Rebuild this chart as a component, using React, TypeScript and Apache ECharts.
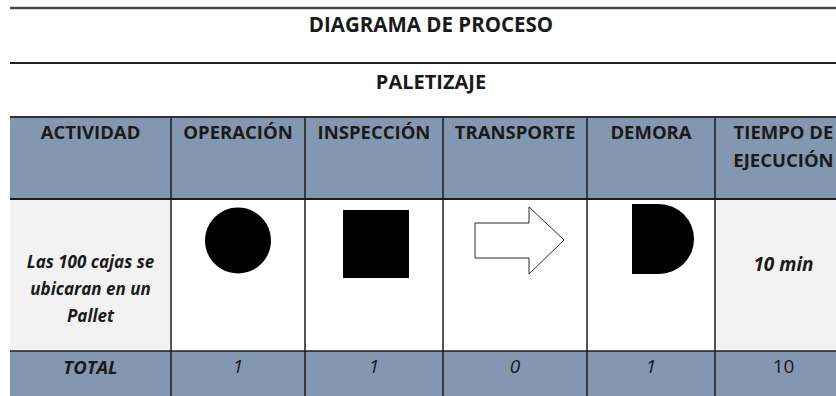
import React, { useEffect, useRef } from "react";
import * as echarts from "echarts";

const title = "DIAGRAMA DE PROCESO";
const subtitle = "PALETIZAJE";
const columns = ["ACTIVIDAD", "OPERACIÓN", "INSPECCIÓN", "TRANSPORTE", "DEMORA", "TIEMPO DE\nEJECUCIÓN"];
const activityLines = ["Las 100 cajas se", "ubicaran en un", "Pallet"];
const timeLabel = "10 min";
const totalLabel = "TOTAL";
const totals = ["1", "1", "0", "1"];
const totalTime = "10";

// layout
const colEdges = [10, 171, 305, 443, 587, 715, 852];
const yTopLine = 8;
const ySecondLine = 63;
const yHeaderTop = 117;
const yHeaderBottom = 199;
const yBodyBottom = 351;
const yBottom = 396;

const HEADER_BG = "#8497b0";
const BODY_GRAY = "#f2f2f2";
const LINE = "#1c1c1c";
const TXT = "#1a1a1a";
const FONT = "'Open Sans', 'Noto Sans', sans-serif";

let registered = false;
function registerShapes() {
  if (registered) return;
  registered = true;
  // D-shaped delay symbol, 62 x 70
  echarts.graphic.registerShape(
    "demoraShape",
    echarts.graphic.extendPath("M0 0 L27 0 A35 35 0 0 1 27 70 L0 70 Z", {})
  );
}

export default function App() {
  const ref = useRef<HTMLDivElement>(null);
  useEffect(() => {
    document.body.style.margin = "0";
    registerShapes();
    const chart = echarts.init(ref.current!, undefined, { renderer: "svg" });
    const cx = (i: number) => (colEdges[i] + colEdges[i + 1]) / 2;
    const els: any[] = [];
    const W = colEdges[colEdges.length - 1];
    const L = colEdges[0];

    // lines top
    els.push({ type: "line", shape: { x1: L, y1: yTopLine, x2: W, y2: yTopLine }, style: { stroke: "#4a4a4a", lineWidth: 2.5 } });
    els.push({ type: "line", shape: { x1: L, y1: ySecondLine, x2: W, y2: ySecondLine }, style: { stroke: "#222", lineWidth: 2 } });

    // title texts
    const tStyle = { fontFamily: FONT, fontWeight: "bold", fontSize: 18.5, fill: TXT, align: "center", verticalAlign: "middle" };
    els.push({ type: "text", style: { ...tStyle, fontSize: 20.5, text: title, x: 431, y: 24 } });
    els.push({ type: "text", style: { ...tStyle, fontSize: 20, text: subtitle, x: 431, y: 81 } });

    // backgrounds
    els.push({ type: "rect", shape: { x: L, y: yHeaderTop, width: W - L, height: yHeaderBottom - yHeaderTop }, style: { fill: HEADER_BG } });
    els.push({ type: "rect", shape: { x: L, y: yHeaderBottom, width: W - L, height: yBodyBottom - yHeaderBottom }, style: { fill: "#ffffff" } });
    els.push({ type: "rect", shape: { x: colEdges[0], y: yHeaderBottom, width: colEdges[1] - colEdges[0], height: yBodyBottom - yHeaderBottom }, style: { fill: BODY_GRAY } });
    els.push({ type: "rect", shape: { x: colEdges[5], y: yHeaderBottom, width: colEdges[6] - colEdges[5], height: yBodyBottom - yHeaderBottom }, style: { fill: BODY_GRAY } });
    els.push({ type: "rect", shape: { x: L, y: yBodyBottom, width: W - L, height: yBottom - yBodyBottom }, style: { fill: HEADER_BG } });

    // grid lines
    els.push({ type: "line", shape: { x1: L, y1: yHeaderTop, x2: W, y2: yHeaderTop }, style: { stroke: "#333", lineWidth: 2 } });
    els.push({ type: "line", shape: { x1: L, y1: yHeaderBottom, x2: W, y2: yHeaderBottom }, style: { stroke: LINE, lineWidth: 2 } });
    els.push({ type: "line", shape: { x1: L, y1: yBodyBottom, x2: W, y2: yBodyBottom }, style: { stroke: LINE, lineWidth: 1.5 } });
    for (let i = 1; i < colEdges.length - 1; i++) {
      els.push({ type: "line", shape: { x1: colEdges[i], y1: yHeaderTop, x2: colEdges[i], y2: yBottom }, style: { stroke: LINE, lineWidth: 1.5 } });
    }

    // header texts
    columns.forEach((c, i) => {
      const lines = c.split("\n");
      lines.forEach((ln, j) => {
        els.push({ type: "text", style: { ...tStyle, text: ln, x: cx(i), y: 131 + j * 28 } });
      });
    });

    // body: activity
    const iStyle = { fontFamily: FONT, fontWeight: "bold", fontStyle: "italic", fontSize: 17, fill: TXT, align: "center", verticalAlign: "middle" };
    activityLines.forEach((ln, j) => {
      els.push({ type: "text", style: { ...iStyle, text: ln, x: cx(0), y: 261 + j * 27 } });
    });
    // symbols
    els.push({ type: "circle", shape: { cx: cx(1), cy: 240.5, r: 33 }, style: { fill: "#000" } });
    els.push({ type: "rect", shape: { x: cx(2) - 31, y: 210, width: 66, height: 68 }, style: { fill: "#000" } });
    const ax = 475, ay = 207;
    els.push({
      type: "polygon",
      shape: {
        points: [
          [ax, ay + 16], [ax + 54, ay + 16], [ax + 54, ay], [ax + 89, ay + 33], [ax + 54, ay + 67], [ax + 54, ay + 51], [ax, ay + 51],
        ],
      },
      style: { fill: "#fff", stroke: "#2a2a2a", lineWidth: 1 },
    });
    els.push({ type: "demoraShape", x: 632, y: 204, style: { fill: "#000" } });
    els.push({ type: "text", style: { ...iStyle, fontSize: 19, text: timeLabel, x: cx(5), y: 264 } });

    // totals
    els.push({ type: "text", style: { ...iStyle, fontSize: 18.5, text: totalLabel, x: cx(0), y: 366 } });
    totals.forEach((t, i) => {
      els.push({ type: "text", style: { ...iStyle, fontWeight: "normal", fontSize: 19, text: t, x: cx(i + 1), y: 366 } });
    });
    els.push({ type: "text", style: { ...iStyle, fontWeight: "normal", fontStyle: "normal", fontSize: 19, text: totalTime, x: cx(5), y: 366 } });

    chart.setOption({ animation: false, graphic: { elements: els } });
    return () => chart.dispose();
  }, []);
  return <div ref={ref} style={{ width: 836, height: 396, position: "absolute", left: 0, top: 0, background: "#fff" }} />;
}
